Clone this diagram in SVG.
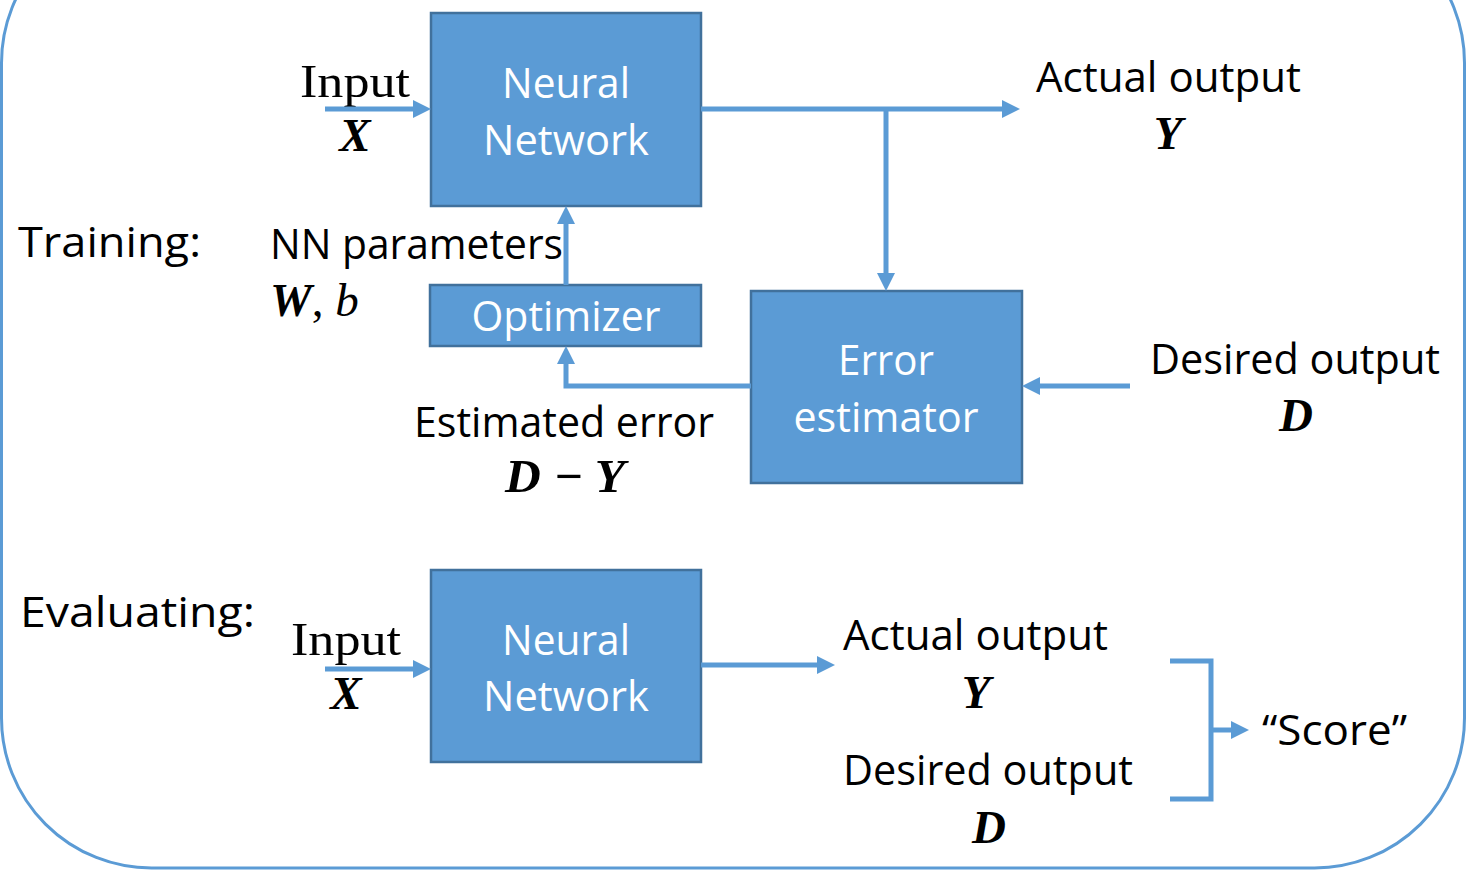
<svg xmlns="http://www.w3.org/2000/svg" width="1473" height="872" viewBox="0 0 1473 872">
<style>
.box{fill:#5B9BD5;stroke:#41719C;stroke-width:2.5}
.wt{fill:#ffffff;font-family:"Open Sans","Noto Sans",sans-serif;font-size:42px;text-anchor:middle}
.bt{fill:#000000;font-family:"Open Sans","Noto Sans",sans-serif;font-size:42px}
.sr{fill:#000000;font-family:"Liberation Serif",serif;font-size:47px;text-anchor:middle}
.mb{fill:#000000;font-family:"Liberation Serif",serif;font-size:47px;font-weight:bold;font-style:italic;text-anchor:middle}
.conn{fill:none;stroke:#5B9BD5;stroke-width:5}
</style>
<defs>
<marker id="ah" viewBox="0 0 18 18" refX="4" refY="9" markerWidth="18" markerHeight="18" markerUnits="userSpaceOnUse" orient="auto">
<path d="M0,0 L18,9 L0,18 z" fill="#5B9BD5"/>
</marker>
</defs>
<rect x="1.5" y="-87" width="1463" height="955" rx="150" ry="150" fill="none" stroke="#5B9BD5" stroke-width="3"/>

<g id="labels">
<text class="bt" x="18" y="257" textLength="183" lengthAdjust="spacingAndGlyphs">Training:</text>
<text class="bt" x="20" y="627" textLength="235" lengthAdjust="spacingAndGlyphs">Evaluating:</text>
</g>

<g id="nn-train">
<rect class="box" x="431" y="13" width="270" height="193"/>
<text class="wt" x="566" y="98" textLength="128" lengthAdjust="spacingAndGlyphs">Neural</text>
<text class="wt" x="566" y="155" textLength="166" lengthAdjust="spacingAndGlyphs">Network</text>
</g>
<g id="optimizer">
<rect class="box" x="430" y="285" width="271" height="61"/>
<text class="wt" x="566" y="331" textLength="189" lengthAdjust="spacingAndGlyphs">Optimizer</text>
</g>
<g id="error-estimator">
<rect class="box" x="751" y="291" width="271" height="192"/>
<text class="wt" x="886" y="375" textLength="96" lengthAdjust="spacingAndGlyphs">Error</text>
<text class="wt" x="886" y="432" textLength="185" lengthAdjust="spacingAndGlyphs">estimator</text>
</g>
<g id="nn-eval">
<rect class="box" x="431" y="570" width="270" height="192"/>
<text class="wt" x="566" y="655" textLength="128" lengthAdjust="spacingAndGlyphs">Neural</text>
<text class="wt" x="566" y="711" textLength="166" lengthAdjust="spacingAndGlyphs">Network</text>
</g>

<g id="input-train">
<text class="sr" x="355" y="97" textLength="110" lengthAdjust="spacingAndGlyphs">Input</text>
<text class="mb" x="355" y="151">X</text>
</g>
<g id="actual-train">
<text class="bt" x="1036" y="92" textLength="265" lengthAdjust="spacingAndGlyphs">Actual output</text>
<text class="mb" x="1168" y="149">Y</text>
</g>
<g id="params">
<text class="bt" x="270" y="259" textLength="293" lengthAdjust="spacingAndGlyphs">NN parameters</text>
<text x="270" y="316" style="font-family:'Liberation Serif',serif;font-size:47px"><tspan font-weight="bold" font-style="italic">W</tspan><tspan>, </tspan><tspan font-style="italic">b</tspan></text>
</g>
<g id="est-error">
<text class="bt" x="414" y="437" textLength="300" lengthAdjust="spacingAndGlyphs">Estimated error</text>
<text class="mb" x="565" y="492" textLength="120" lengthAdjust="spacingAndGlyphs">D − Y</text>
</g>
<g id="desired-train">
<text class="bt" x="1150" y="374" textLength="290" lengthAdjust="spacingAndGlyphs">Desired output</text>
<text class="mb" x="1296" y="431">D</text>
</g>
<g id="input-eval">
<text class="sr" x="346" y="655" textLength="110" lengthAdjust="spacingAndGlyphs">Input</text>
<text class="mb" x="346" y="709">X</text>
</g>
<g id="actual-eval">
<text class="bt" x="843" y="650" textLength="265" lengthAdjust="spacingAndGlyphs">Actual output</text>
<text class="mb" x="976" y="708">Y</text>
</g>
<g id="desired-eval">
<text class="bt" x="843" y="785" textLength="290" lengthAdjust="spacingAndGlyphs">Desired output</text>
<text class="mb" x="989" y="843">D</text>
</g>
<g id="score">
<text class="bt" x="1262" y="745" textLength="145" lengthAdjust="spacingAndGlyphs">“Score”</text>
</g>

<g id="connectors">
<path class="conn" d="M325,109 H417" marker-end="url(#ah)"/>
<path class="conn" d="M701,109 H1006" marker-end="url(#ah)"/>
<path class="conn" d="M886,109 V277" marker-end="url(#ah)"/>
<path class="conn" d="M566,285 V220" marker-end="url(#ah)"/>
<path class="conn" d="M751,386 H566 V360" marker-end="url(#ah)"/>
<path class="conn" d="M1130,386 H1036" marker-end="url(#ah)"/>
<path class="conn" d="M325,669 H417" marker-end="url(#ah)"/>
<path class="conn" d="M701,665 H821" marker-end="url(#ah)"/>
<path class="conn" d="M1170,661 H1211 V799 H1170"/>
<path class="conn" d="M1211,730 H1235" marker-end="url(#ah)"/>
</g>
</svg>
